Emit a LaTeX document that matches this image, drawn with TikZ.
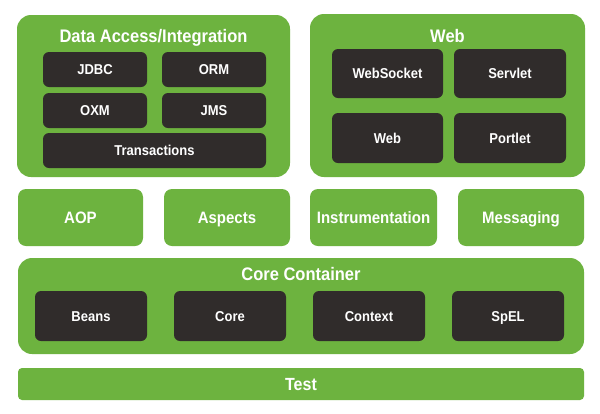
\documentclass[tikz,border=0pt]{standalone}
\usepackage{graphicx}
\usepackage{fontspec}
\setmainfont{Liberation Sans}
\definecolor{sgreen}{HTML}{6DB33F}
\definecolor{sdark}{HTML}{302C2B}
\newcommand{\stx}[1]{\scalebox{1}[1.1]{#1}}
\tikzset{
  gbig/.style={fill=sgreen, draw=none, rounded corners=14pt, inner sep=0pt},
  gmid/.style={fill=sgreen, draw=none, rounded corners=8pt, inner sep=0pt, text=white,
    font=\fontsize{15}{17}\selectfont\bfseries, text height=11.8pt, text depth=0pt},
  dbox/.style={fill=sdark, draw=none, rounded corners=6pt, inner sep=0pt, text=white,
    font=\fontsize{13}{15}\selectfont\bfseries, text height=10.2pt, text depth=0pt},
  ttl/.style={text=white, inner sep=0pt, font=\fontsize{16.5}{18}\selectfont\bfseries,
    text height=13pt, text depth=0pt},
}
\begin{document}
\begin{tikzpicture}[x=1pt,y=-1pt]
\fill[white] (0,0) rectangle (600,413);
\useasboundingbox (0,0) rectangle (600,413);
% Data access
\node[gbig, minimum width=273pt, minimum height=162pt] (da) at (153.5,96) {};
\node[ttl] (dat) at (153.5,35.5) {\stx{Data Access/Integration}};
\node[dbox, minimum width=104pt, minimum height=35pt] (jdbc) at (95,69.5) {\stx{JDBC}};
\node[dbox, minimum width=104pt, minimum height=35pt] (orm) at (214,69.5) {\stx{ORM}};
\node[dbox, minimum width=104pt, minimum height=35pt] (oxm) at (95,110.5) {\stx{OXM}};
\node[dbox, minimum width=104pt, minimum height=35pt] (jms) at (214,110.5) {\stx{JMS}};
\node[dbox, minimum width=223pt, minimum height=35pt] (trans) at (154.5,150.5) {\stx{Transactions}};
% Web
\node[gbig, minimum width=275pt, minimum height=163pt] (web) at (447.5,95.5) {};
\node[ttl] (webt) at (447.5,35.5) {\stx{Web}};
\node[dbox, minimum width=111pt, minimum height=49pt] (ws) at (387.5,73.5) {\stx{WebSocket}};
\node[dbox, minimum width=112pt, minimum height=49pt] (servlet) at (510,73.5) {\stx{Servlet}};
\node[dbox, minimum width=111pt, minimum height=50pt] (webm) at (387.5,138) {\stx{Web}};
\node[dbox, minimum width=112pt, minimum height=50pt] (portlet) at (510,138) {\stx{Portlet}};
% middle row
\node[gmid, minimum width=125pt, minimum height=57pt] (aop) at (80.5,217.5) {\stx{AOP}};
\node[gmid, minimum width=126pt, minimum height=57pt] (asp) at (227,217.5) {\stx{Aspects}};
\node[gmid, minimum width=127pt, minimum height=57pt] (instr) at (373.5,217.5) {\stx{Instrumentation}};
\node[gmid, minimum width=126pt, minimum height=57pt] (msg) at (521,217.5) {\stx{Messaging}};
% Core container
\node[gbig, minimum width=566pt, minimum height=96pt] (cc) at (301,306) {};
\node[ttl] (cct) at (301,274) {\stx{Core Container}};
\node[dbox, minimum width=112pt, minimum height=50pt] (beans) at (91,316) {\stx{Beans}};
\node[dbox, minimum width=112pt, minimum height=50pt] (core) at (230,316) {\stx{Core}};
\node[dbox, minimum width=112pt, minimum height=50pt] (ctx) at (369,316) {\stx{Context}};
\node[dbox, minimum width=112pt, minimum height=50pt] (spel) at (508,316) {\stx{SpEL}};
% Test
\node[gmid, rounded corners=4pt, minimum width=566pt, minimum height=32pt,
  font=\fontsize{16}{18}\selectfont\bfseries, text height=13pt] (test) at (301,384) {\stx{Test}};
\end{tikzpicture}
\end{document}
